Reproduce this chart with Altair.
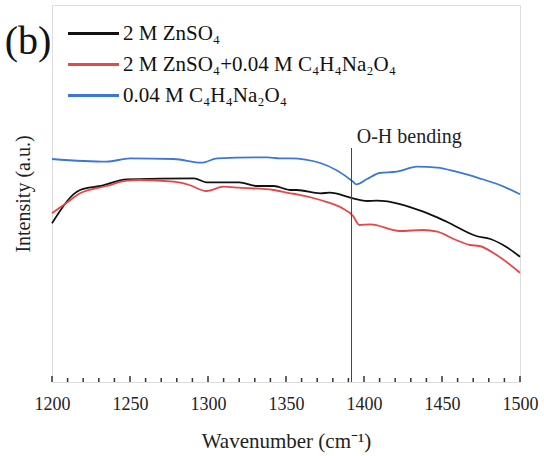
import altair as alt
import pandas as pd

FONT = "Liberation Serif"

series_names = ["2 M ZnSO₄", "2 M ZnSO₄+0.04 M C₄H₄Na₂O₄", "0.04 M C₄H₄Na₂O₄"]
series_colors = ["#111111", "#e8474a", "#3a78d6"]

black_x = [1200, 1218, 1231, 1248, 1291, 1299, 1320, 1331, 1342, 1353, 1357, 1372, 1378, 1393, 1402, 1408, 1438, 1453, 1472, 1481, 1491, 1500]
black_y = [158.7, 192, 196, 202.7, 203.7, 199.7, 199.7, 196, 196, 192, 192, 188.7, 189.3, 183.7, 181, 181.3, 170.3, 160.3, 146, 143, 135.3, 125.3]

red_x = [1200, 1209, 1218, 1235, 1248, 1256, 1278, 1288, 1299, 1310, 1320, 1342, 1353, 1357, 1372, 1385, 1393, 1397, 1404, 1423, 1438, 1447, 1459, 1468, 1474, 1485, 1500]
red_y = [168.7, 178.7, 188.7, 196, 201.3, 202, 200.3, 197, 191, 195.3, 194.3, 192, 188.7, 187.7, 182, 174.7, 166, 157, 157.7, 151, 152, 150.3, 142, 137, 136, 127, 109.3]

blue_x = [1200, 1235, 1250, 1278, 1296, 1306, 1338, 1346, 1353, 1372, 1393, 1395, 1402, 1410, 1421, 1434, 1447, 1459, 1474, 1487, 1500]
blue_y = [223, 220.3, 223.7, 223, 219.3, 223.7, 224.7, 223.7, 223.7, 219, 200.3, 197.7, 203, 209, 210.3, 215.3, 214.3, 210.3, 203.7, 197, 187.7]

x_labels = [1200, 1250, 1300, 1350, 1400, 1450, 1500]
minor_ticks = [v for v in range(1200, 1501, 10) if v % 50 != 0]

peak_x = [1392]
peak_top = [234]
peak_bottom = [0]
peak_label = ["O-H bending"]
peak_label_x = [1429]
peak_label_y = [245]

rows = []
for name, xs, ys in zip(series_names, [black_x, red_x, blue_x], [black_y, red_y, blue_y]):
    for xv, yv in zip(xs, ys):
        rows.append({"wavenumber": xv, "intensity": yv, "series": name})
df = pd.DataFrame(rows)

W, H = 468, 377
xscale = alt.Scale(domain=[1200, 1500], nice=False, zero=False)
yscale = alt.Scale(domain=[0, 377], nice=False)

lines = alt.Chart(df).mark_line(strokeWidth=1.8, interpolate="monotone").encode(
    x=alt.X("wavenumber:Q", scale=xscale,
            axis=alt.Axis(orient="bottom", values=x_labels, format="d", labelFlush=False,
                          ticks=False, domain=False, grid=False,
                          labelFont=FONT, labelFontSize=18, labelColor="#222", labelPadding=13,
                          title="Wavenumber (cm⁻¹)", titleFont=FONT, titleFontSize=21,
                          titleFontWeight="normal", titleColor="#222", titlePadding=17)),
    y=alt.Y("intensity:Q", scale=yscale,
            axis=alt.Axis(labels=False, ticks=False, domain=False, grid=False,
                          title="Intensity (a.u.)", titleFont=FONT, titleFontSize=20,
                          titleFontWeight="normal", titleColor="#222", titlePadding=19)),
    color=alt.Color("series:N", sort=series_names,
                    scale=alt.Scale(domain=series_names, range=series_colors),
                    legend=alt.Legend(orient="none", legendX=14, legendY=18, title=None,
                                      symbolType="M-1,0H5", symbolSize=289, symbolStrokeWidth=3.2,
                                      labelFont=FONT, labelFontSize=21, labelColor="#111",
                                      labelOffset=36, rowPadding=9, padding=0, labelLimit=600)),
)

tick_df = pd.DataFrame({"x": x_labels + minor_ticks,
                        "len": [6] * len(x_labels) + [4] * len(minor_ticks),
                        "base": [0] * (len(x_labels) + len(minor_ticks))})
ticks = alt.Chart(tick_df).mark_rule(color="#333", strokeWidth=1.5).encode(
    x=alt.X("x:Q", scale=xscale),
    y=alt.Y("base:Q", scale=yscale),
    y2="len:Q",
)

peak_df = pd.DataFrame({"x": peak_x, "top": peak_top, "bottom": peak_bottom})
rule = alt.Chart(peak_df).mark_rule(color="#444", strokeWidth=1).encode(
    x=alt.X("x:Q", scale=xscale),
    y=alt.Y("top:Q", scale=yscale),
    y2="bottom:Q",
)

label_df = pd.DataFrame({"x": peak_label_x, "y": peak_label_y, "t": peak_label})
label = alt.Chart(label_df).mark_text(font=FONT, fontSize=20, color="#222", baseline="middle").encode(
    x=alt.X("x:Q", scale=xscale),
    y=alt.Y("y:Q", scale=yscale),
    text="t:N",
)

panel_df = pd.DataFrame({"t": ["(b)"]})
panel = alt.Chart(panel_df).mark_text(font=FONT, fontSize=40, color="#111", baseline="middle", align="center").encode(
    x=alt.value(-24), y=alt.value(37), text="t:N"
)

chart = alt.layer(lines, rule, label, panel, ticks).properties(
    width=W, height=H,
    autosize=alt.AutoSizeParams(type="none"),
    padding={"left": 52, "top": 5, "right": 24, "bottom": 74},
).configure_view(stroke="#444", strokeWidth=1.5).configure(background="white")

chart.save("out.html", embed_options={"renderer": "svg", "actions": False})
